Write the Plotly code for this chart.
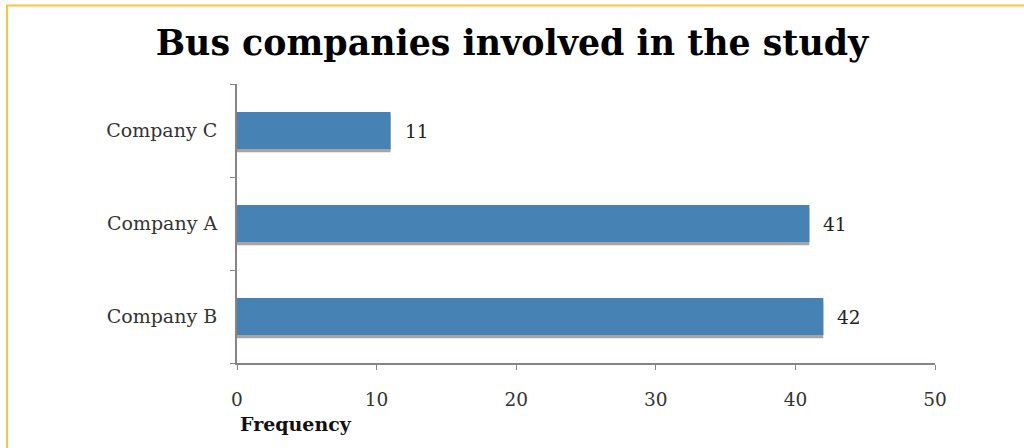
import plotly.graph_objects as go

# Data (bottom-to-top order on the category axis)
companies = ["Company B", "Company A", "Company C"]
frequency = [42, 41, 11]
x_ticks = [0, 10, 20, 30, 40, 50]

title_text = "Bus companies involved in the study"
x_title = "Frequency"

SERIF = "DejaVu Serif"
BAR_BLUE = "#4682b4"
AXIS_GREY = "#8c8282"

BAR_W = 0.40

fig = go.Figure()

# soft drop shadow under each bar
fig.add_trace(go.Bar(
    y=companies, x=frequency, orientation="h",
    width=BAR_W, offset=-BAR_W / 2 - 0.035,
    marker=dict(color="#a9a4a4", line=dict(width=0)),
    hoverinfo="skip", showlegend=False,
))
# main bars
fig.add_trace(go.Bar(
    y=companies, x=frequency, orientation="h",
    width=BAR_W, offset=-BAR_W / 2,
    marker=dict(color=BAR_BLUE, line=dict(width=0)),
    showlegend=False,
))

# value labels at the bar ends
for c, v in zip(companies, frequency):
    fig.add_annotation(
        x=v, y=c, xref="x", yref="y", text=str(v),
        showarrow=False, xanchor="left", xshift=12, yshift=-1,
        font=dict(family=SERIF, size=18.5, color="#222222"),
    )

# axis title, left-aligned under the axis origin
fig.add_annotation(
    x=0, y=-0.219, xref="paper", yref="paper", text=f"<b>{x_title}</b>",
    showarrow=False, xanchor="left", yanchor="middle", xshift=1,
    font=dict(family=SERIF, size=19, color="#111111"),
)

# thin yellow frame along the top and left edges of the page
fig.add_shape(type="line", xref="paper", yref="paper",
              x0=-0.331, x1=1.2, y0=1.2814, y1=1.2814,
              line=dict(color="#f9c53c", width=2))
fig.add_shape(type="line", xref="paper", yref="paper",
              x0=-0.3295, x1=-0.3295, y0=-0.4, y1=1.2814,
              line=dict(color="#f9c53c", width=2))

fig.update_layout(
    width=1024, height=448,
    margin=dict(l=237, r=89, t=84, b=85),
    paper_bgcolor="white", plot_bgcolor="white",
    barmode="overlay",
    title=dict(
        text=f"<b>{title_text}</b>",
        x=0.5, xref="container", xanchor="center",
        y=0.905, yref="container", yanchor="middle",
        font=dict(family=SERIF, size=34.8, color="#000000"),
    ),
    xaxis=dict(
        range=[0, 50], tickvals=x_ticks, ticktext=[str(t) for t in x_ticks],
        showgrid=False, zeroline=False,
        showline=True, linecolor=AXIS_GREY, linewidth=2,
        ticks="outside", ticklen=5, tickcolor=AXIS_GREY, tickwidth=1,
        ticklabelstandoff=14,
        tickfont=dict(family=SERIF, size=18.5, color="#333333"),
        fixedrange=True,
    ),
    yaxis=dict(
        categoryorder="array", categoryarray=companies,
        range=[-0.5, 2.5],
        showgrid=False, zeroline=False,
        showline=True, linecolor=AXIS_GREY, linewidth=2,
        ticks="outside", ticklen=5, tickcolor=AXIS_GREY, tickwidth=1,
        tickson="boundaries",
        ticklabelstandoff=14,
        tickfont=dict(family=SERIF, size=19, color="#333333"),
        fixedrange=True,
    ),
)

fig.write_html("out.html")
